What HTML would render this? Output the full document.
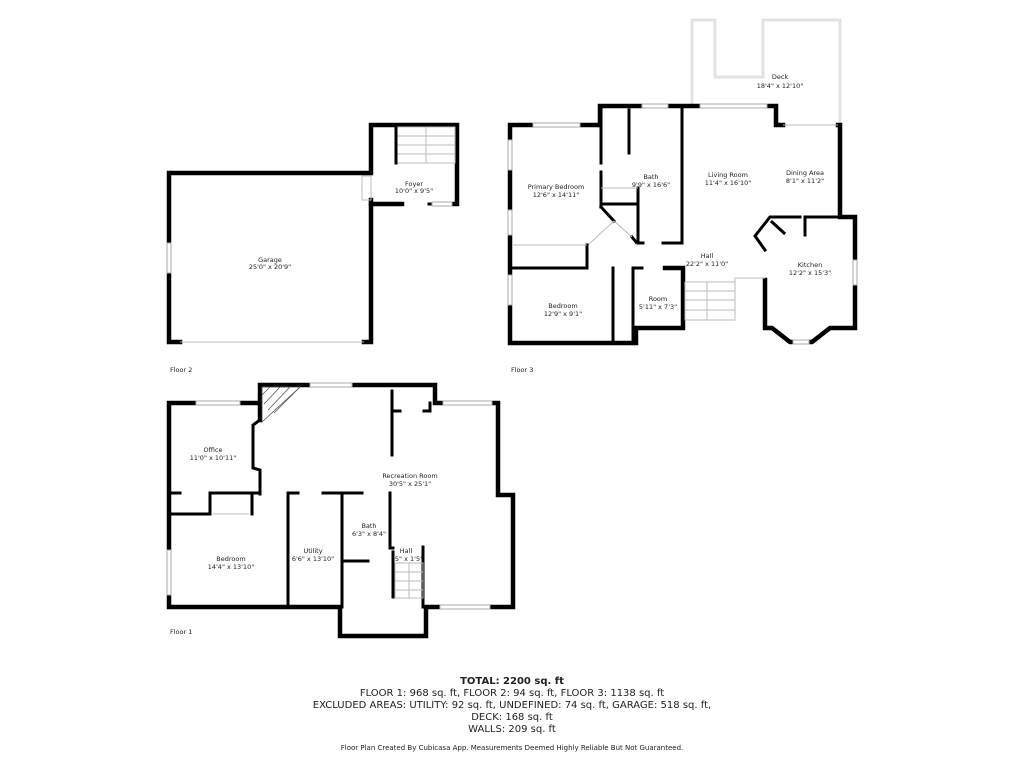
<!DOCTYPE html>
<html><head><meta charset="utf-8"><style>
html,body{margin:0;padding:0;background:#fff;width:1024px;height:768px;overflow:hidden}
svg{display:block}
text{font-family:"DejaVu Sans","Liberation Sans",sans-serif;fill:#222}
.l{font-size:6.5px;text-anchor:middle}
.f{font-size:6.5px}
.w{stroke:#000;stroke-width:4.5;fill:none;stroke-linecap:square;stroke-linejoin:miter}
.t{stroke:#000;stroke-width:3;fill:none;stroke-linecap:square}
.g{stroke:#bbb;stroke-width:1;fill:none}
.win{fill:#fff;stroke:#aaa;stroke-width:1}
.b{font-size:10px;text-anchor:middle}
</style></head><body>
<svg width="1024" height="768" viewBox="0 0 1024 768" xmlns="http://www.w3.org/2000/svg">
<!-- FLOOR 2 -->
<polyline class="w" points="180,342 169,342 169,173 371,173 371,125 457,125 457,204 452,204"/>
<polyline class="w" points="371,200 371,342 364,342"/>
<polyline class="w" points="371,204 402,204"/>
<line class="t" x1="429" y1="204" x2="432" y2="204"/>
<rect class="win" x="432" y="202" width="20" height="4"/>
<rect class="win" x="167" y="243" width="4" height="30"/>
<rect x="362" y="176" width="9" height="24" class="g"/>
<line class="g" x1="180" y1="342" x2="364" y2="342"/>
<g class="g">
<rect x="396" y="127" width="59" height="36"/>
<line x1="426" y1="127" x2="426" y2="163"/>
<line x1="396" y1="136" x2="455" y2="136"/><line x1="396" y1="145" x2="455" y2="145"/><line x1="396" y1="154" x2="455" y2="154"/>
</g>
<line class="t" x1="396" y1="127" x2="396" y2="163"/>
<text class="l" x="414" y="186">Foyer</text><text class="l" x="414" y="193">10'0" x 9'5"</text>
<text class="l" x="270" y="262">Garage</text><text class="l" x="270" y="269">25'0" x 20'9"</text>
<text class="f" x="170" y="372">Floor 2</text>

<!-- FLOOR 3 deck -->
<g stroke="#c4c4c4" stroke-width="2.4" fill="none"><polyline points="692,106 692,20 715,20 715,77 763,77 763,20 840,20 840,125"/></g>
<g stroke="#fff" stroke-width="1" fill="none"><polyline points="692,106 692,20 715,20 715,77 763,77 763,20 840,20 840,125"/></g>
<text class="l" x="780" y="79">Deck</text><text class="l" x="780" y="88">18'4" x 12'10"</text>
<!-- FLOOR 3 walls -->
<polyline class="w" points="600,125 600,106 776,106 776,125 783,125"/>
<polyline class="w" points="600,125 510,125 510,343 636,343 636,328 683,328 683,268 665,268"/>
<polyline class="w" points="838,125 840,125 840,217 855,217 855,328 830,328 812,342 790,342 772,328 765,328 765,280"/>
<rect class="win" x="533" y="123" width="47" height="4"/>
<rect class="win" x="642" y="104" width="26" height="4"/>
<rect class="win" x="700" y="104" width="67" height="4"/>
<rect class="win" x="508" y="140" width="4" height="30"/>
<rect class="win" x="508" y="210" width="4" height="25"/>
<rect class="win" x="508" y="275" width="4" height="30"/>
<rect class="win" x="853" y="260" width="4" height="25"/>
<rect class="win" x="793" y="340" width="16" height="4"/>
<line class="g" x1="783" y1="125" x2="838" y2="125"/>
<polyline class="t" points="800,217 770,217 755,236 765,250"/>
<line class="t" x1="772" y1="222" x2="784" y2="233"/>
<line class="t" x1="805" y1="217" x2="805" y2="235"/>
<line class="t" x1="805" y1="217" x2="840" y2="217"/>
<line class="t" x1="682" y1="106" x2="682" y2="243"/>
<line class="t" x1="663" y1="243" x2="682" y2="243"/>
<line class="t" x1="638" y1="243" x2="643" y2="243"/>
<line class="t" x1="601" y1="106" x2="601" y2="163"/>
<line class="t" x1="601" y1="172" x2="601" y2="207"/>
<line class="t" x1="629" y1="110" x2="629" y2="153"/>
<line class="t" x1="638" y1="188" x2="638" y2="243"/>
<line class="t" x1="601" y1="204" x2="638" y2="204"/>
<line class="g" x1="601" y1="188" x2="638" y2="188"/>
<polyline class="t" points="601,207 614,221"/>
<polyline class="t" points="632,237 636,242"/>
<line class="g" x1="614" y1="221" x2="632" y2="237"/>
<line class="g" x1="614" y1="221" x2="588" y2="245"/>
<polyline class="t" points="510,268 587,268 587,245"/>
<line class="g" x1="512" y1="245" x2="587" y2="245"/>
<line class="t" x1="613" y1="268" x2="613" y2="343"/>
<line class="t" x1="633" y1="268" x2="633" y2="343"/>
<line class="t" x1="633" y1="268" x2="642" y2="268"/>
<g class="g">
<rect x="685" y="282" width="50" height="38"/>
<line x1="707" y1="282" x2="707" y2="320"/>
<line x1="685" y1="291" x2="735" y2="291"/><line x1="685" y1="300" x2="735" y2="300"/><line x1="685" y1="310" x2="735" y2="310"/>
<polyline points="735,282 735,278 765,278"/>
</g>
<text class="l" x="556" y="189">Primary Bedroom</text><text class="l" x="556" y="197">12'6" x 14'11"</text>
<text class="l" x="651" y="179">Bath</text><text class="l" x="651" y="187">9'9" x 16'6"</text>
<text class="l" x="728" y="177">Living Room</text><text class="l" x="728" y="185">11'4" x 16'10"</text>
<text class="l" x="805" y="175">Dining Area</text><text class="l" x="805" y="183">8'1" x 11'2"</text>
<text class="l" x="707" y="258">Hall</text><text class="l" x="707" y="266">22'2" x 11'0"</text>
<text class="l" x="810" y="267">Kitchen</text><text class="l" x="810" y="275">12'2" x 15'3"</text>
<text class="l" x="563" y="308">Bedroom</text><text class="l" x="563" y="316">12'9" x 9'1"</text>
<text class="l" x="658" y="301">Room</text><text class="l" x="658" y="309">5'11" x 7'3"</text>
<text class="f" x="511" y="372">Floor 3</text>

<!-- FLOOR 1 -->
<polyline class="w" points="260,403 169,403 169,607 340,607 340,636 426,636 426,607 440,607"/>
<polyline class="w" points="260,420 260,385 435,385 435,403 443,403"/>
<polyline class="w" points="492,403 498,403 498,495 513,495 513,607 490,607"/>
<rect class="win" x="196" y="401" width="44" height="4"/>
<rect class="win" x="310" y="383" width="42" height="4"/>
<rect class="win" x="443" y="401" width="49" height="4"/>
<rect class="win" x="440" y="605" width="50" height="4"/>
<rect class="win" x="167" y="550" width="4" height="45"/>
<g stroke="#555" stroke-width="0.8" fill="none">
<polygon points="262,387 300,387 262,422"/>
<line x1="270" y1="387" x2="262" y2="395"/><line x1="280" y1="387" x2="264" y2="404"/><line x1="290" y1="387" x2="268" y2="410"/><line x1="299" y1="388" x2="274" y2="413"/>
</g>
<polyline class="t" points="260,420 253,425 253,468 260,470 260,494"/>
<line class="t" x1="169" y1="493" x2="180" y2="493"/>
<polyline class="t" points="210,514 210,493 260,493"/>
<polyline class="t" points="169,514 210,514"/>
<line class="t" x1="252" y1="493" x2="252" y2="514"/>
<line class="g" x1="213" y1="514" x2="249" y2="514"/>
<line class="t" x1="288" y1="493" x2="288" y2="607"/>
<line class="t" x1="288" y1="493" x2="298" y2="493"/>
<line class="t" x1="323" y1="493" x2="362" y2="493"/>
<line class="t" x1="342" y1="493" x2="342" y2="607"/>
<line class="t" x1="342" y1="561" x2="368" y2="561"/>
<polyline class="t" points="390,493 390,548 393,548"/>
<line class="t" x1="392" y1="391" x2="392" y2="455"/>
<polyline class="t" points="392,411 400,411"/>
<polyline class="t" points="424,411 430,411 430,403"/>
<line class="t" x1="423" y1="547" x2="423" y2="607"/>
<line class="t" x1="393" y1="552" x2="393" y2="597"/>
<g class="g">
<rect x="395" y="563" width="28" height="35"/>
<line x1="395" y1="572" x2="423" y2="572"/><line x1="395" y1="581" x2="423" y2="581"/><line x1="395" y1="590" x2="423" y2="590"/>
<line x1="409" y1="563" x2="409" y2="598"/>
</g>
<text class="l" x="213" y="452">Office</text><text class="l" x="213" y="460">11'0" x 10'11"</text>
<text class="l" x="410" y="478">Recreation Room</text><text class="l" x="410" y="486">30'5" x 25'1"</text>
<text class="l" x="369" y="528">Bath</text><text class="l" x="369" y="536">6'3" x 8'4"</text>
<text class="l" x="406" y="553">Hall</text><text class="l" x="409" y="561">5" x 1'5"</text>
<text class="l" x="313" y="553">Utility</text><text class="l" x="313" y="561">6'6" x 13'10"</text>
<text class="l" x="231" y="561">Bedroom</text><text class="l" x="231" y="569">14'4" x 13'10"</text>
<text class="f" x="170" y="634">Floor 1</text>

<!-- summary -->
<text class="b" x="512" y="684" font-weight="bold">TOTAL: 2200 sq. ft</text>
<text class="b" x="512" y="696">FLOOR 1: 968 sq. ft, FLOOR 2: 94 sq. ft, FLOOR 3: 1138 sq. ft</text>
<text class="b" x="512" y="708">EXCLUDED AREAS: UTILITY: 92 sq. ft, UNDEFINED: 74 sq. ft, GARAGE: 518 sq. ft,</text>
<text class="b" x="512" y="720">DECK: 168 sq. ft</text>
<text class="b" x="512" y="732">WALLS: 209 sq. ft</text>
<text x="512" y="750" style="font-size:7px;text-anchor:middle">Floor Plan Created By Cubicasa App. Measurements Deemed Highly Reliable But Not Guaranteed.</text>
</svg>
</body></html>
